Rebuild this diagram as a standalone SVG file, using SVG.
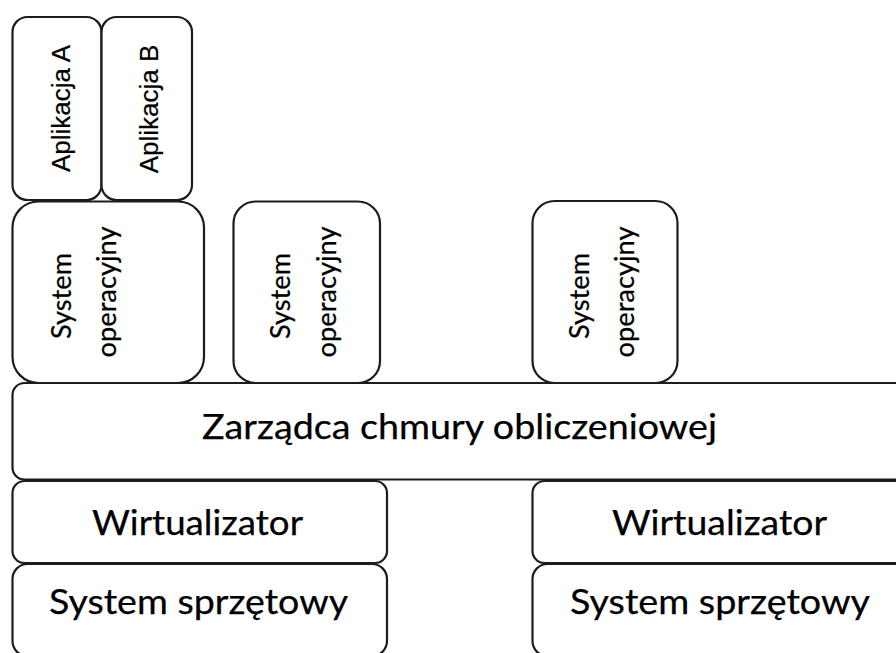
<svg xmlns="http://www.w3.org/2000/svg" width="896" height="653" viewBox="0 0 896 653">
  <style>
    .box { fill: #ffffff; stroke: #1c1c1c; stroke-width: 2.2; }
    .app { font-family: "Liberation Sans", Arial, sans-serif; font-size: 26px; fill: #000; stroke: #000; stroke-width: 0.2; text-anchor: middle; }
    .os { font-family: Lato, "Open Sans", sans-serif; font-size: 27px; fill: #000; stroke: #000; stroke-width: 0.25; text-anchor: middle; }
    .big { font-family: Lato, "Open Sans", sans-serif; font-size: 34px; fill: #000; stroke: #000; stroke-width: 0.25; text-anchor: middle; }
  </style>
  <rect width="896" height="653" fill="#ffffff"/>

  <!-- application layer -->
  <g id="app-a">
    <rect class="box" x="12.5" y="17" width="89" height="183" rx="15"/>
    <text class="app" x="70" y="108.5" transform="rotate(-90 70 108.5)">Aplikacja A</text>
  </g>
  <g id="app-b">
    <rect class="box" x="101.5" y="17" width="90.5" height="183" rx="15"/>
    <text class="app" x="158" y="109" transform="rotate(-90 158 109)">Aplikacja B</text>
  </g>

  <!-- guest operating systems -->
  <g id="os-1">
    <rect class="box" x="12.5" y="201.5" width="191.5" height="181.5" rx="26"/>
    <text class="os" x="71" y="296" transform="rotate(-90 71 296)" textLength="86" lengthAdjust="spacingAndGlyphs">System</text>
    <text class="os" x="116" y="292" transform="rotate(-90 116 292)" textLength="131" lengthAdjust="spacingAndGlyphs">operacyjny</text>
  </g>
  <g id="os-2">
    <rect class="box" x="233.5" y="201.5" width="146.5" height="181.5" rx="22"/>
    <text class="os" x="290" y="296" transform="rotate(-90 290 296)" textLength="86" lengthAdjust="spacingAndGlyphs">System</text>
    <text class="os" x="336" y="292" transform="rotate(-90 336 292)" textLength="131" lengthAdjust="spacingAndGlyphs">operacyjny</text>
  </g>
  <g id="os-3">
    <rect class="box" x="532.5" y="201" width="145" height="182" rx="22"/>
    <text class="os" x="589" y="296" transform="rotate(-90 589 296)" textLength="86" lengthAdjust="spacingAndGlyphs">System</text>
    <text class="os" x="634" y="292" transform="rotate(-90 634 292)" textLength="131" lengthAdjust="spacingAndGlyphs">operacyjny</text>
  </g>

  <!-- cloud manager spanning all hosts -->
  <g id="cloud-manager">
    <rect class="box" x="12.5" y="383" width="910" height="96.5" rx="12"/>
    <text class="big" x="459.5" y="439" textLength="515" lengthAdjust="spacingAndGlyphs">Zarządca chmury obliczeniowej</text>
  </g>

  <!-- host 1 -->
  <g id="virt-1">
    <rect class="box" x="12.5" y="481" width="374.5" height="82" rx="12"/>
    <text class="big" x="197.5" y="535" textLength="211" lengthAdjust="spacingAndGlyphs">Wirtualizator</text>
  </g>
  <g id="hw-1">
    <rect class="box" x="12.5" y="564" width="374.5" height="92" rx="15"/>
    <text class="big" x="198.5" y="614" textLength="299" lengthAdjust="spacingAndGlyphs">System sprzętowy</text>
  </g>

  <!-- host 2 -->
  <g id="virt-2">
    <rect class="box" x="532.5" y="481" width="390" height="82" rx="12"/>
    <text class="big" x="719.5" y="535" textLength="215" lengthAdjust="spacingAndGlyphs">Wirtualizator</text>
  </g>
  <g id="hw-2">
    <rect class="box" x="532.5" y="564" width="390" height="92" rx="15"/>
    <text class="big" x="720" y="614" textLength="300" lengthAdjust="spacingAndGlyphs">System sprzętowy</text>
  </g>

  <!-- layers touch directly; no connecting lines -->
  <g id="connectors"/>
</svg>
